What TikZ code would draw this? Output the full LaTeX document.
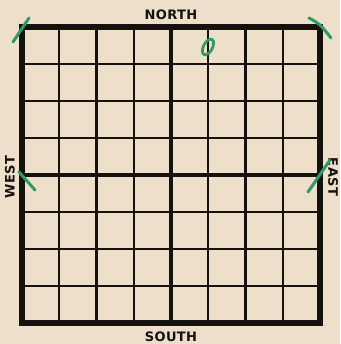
\documentclass[tikz,border=0pt]{standalone}
\usepackage{fontspec}
\newfontfamily\compassfont[LetterSpace=3]{DejaVu Sans}
\usetikzlibrary{positioning}
\definecolor{paper}{HTML}{EEDFCB}
\definecolor{ink}{HTML}{15110E}
\definecolor{pencil}{HTML}{2F9A66}

\begin{document}
\begin{tikzpicture}[x=1pt,y=-1pt,
  compass/.style={font=\compassfont\bfseries\fontsize{13}{13}\selectfont, text=ink, inner sep=0pt},
  gridline/.style={draw=ink, line width=2.3pt},
  halfline/.style={draw=ink, line width=4pt},
  greenmark/.style={draw=pencil, line width=3pt, line cap=round}]
\fill[paper] (0,0) rectangle (340,344);
\useasboundingbox (0,0) rectangle (340,344);
% the 8 x 8 squares
\foreach \i in {1,...,7} {
  \draw[gridline] ({22+37.25*\i},27) -- ({22+37.25*\i},323);
  \draw[gridline] (22,{27+37*\i}) -- (320,{27+37*\i});
}
\draw[halfline] (171,27) -- (171,323);
\draw[halfline] (22,175) -- (320,175);
\draw[draw=ink, line width=6pt] (22,27) rectangle (320,323);
% compass points
\node[compass] (north) at (171,15) {NORTH};
\node[compass] (south) at (171,337) {SOUTH};
\node[compass, rotate=90] (west) at (10,177) {WEST};
\node[compass, rotate=-90] (east) at (333,177) {EAST};
% pencil marks
\draw[greenmark] (13,42) -- (29,18);
\draw[greenmark] (309,18) .. controls (320,24) .. (331,38);
\draw[greenmark] (19,172) -- (35,190);
\draw[greenmark] (330,160) -- (308,192);
\draw[greenmark, line width=2.8pt, rotate around={-28:(208,47)}] (208,47) ellipse (4.5 and 8.5);
\end{tikzpicture}
\end{document}
